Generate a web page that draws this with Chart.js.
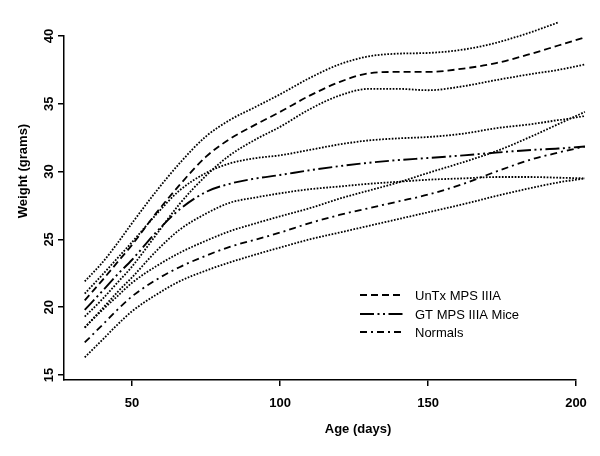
<!DOCTYPE html>
<html><head><meta charset="utf-8">
<script src="https://cdn.jsdelivr.net/npm/chart.js@4.4.0/dist/chart.umd.min.js"></script>
<style>html,body{margin:0;padding:0;background:#fff;}</style>
</head><body>
<canvas id="c" width="600" height="456"></canvas>
<script>
// ---- data ----
const days   = [34, 40, 45, 50, 58, 66, 75, 83, 92, 100, 110, 120, 130, 140, 150, 162, 173, 185, 194, 203];
const untxHi = [21.9,23.3,24.7,26.2,28.5,30.6,32.6,33.8,34.8,35.7,36.9,37.9,38.5,38.7,38.75,39.0,39.5,40.3,41.0,null];
const untx   = [20.5,22.0,23.3,24.6,26.9,29.0,31.1,32.4,33.5,34.4,35.6,36.6,37.25,37.35,37.35,37.6,38.0,38.7,39.3,39.9];
const untxLo = [19.3,20.6,21.8,23.0,25.3,27.6,29.7,31.2,32.4,33.3,34.6,35.6,36.1,36.1,36.0,36.3,36.75,37.2,37.5,37.9];
const gtHi   = [21.0,22.4,23.6,24.8,26.8,28.6,29.9,30.6,31.0,31.2,31.6,32.0,32.3,32.45,32.55,32.8,33.2,33.5,33.8,34.1];
const gt     = [19.8,21.2,22.4,23.5,25.5,27.2,28.5,29.1,29.5,29.75,30.1,30.4,30.65,30.85,31.0,31.2,31.4,31.6,31.7,31.85];
const gtLo   = [18.5,19.9,21.1,22.2,24.1,25.7,26.9,27.7,28.1,28.4,28.7,28.9,29.1,29.25,29.4,29.5,29.6,29.6,29.55,29.5];
const normHi = [18.5,19.8,20.8,21.8,23.0,24.0,24.9,25.6,26.2,26.7,27.3,28.0,28.6,29.2,29.9,30.7,31.5,32.6,33.5,34.4];
const norm   = [17.4,18.7,19.8,20.8,22.0,22.95,23.8,24.45,25.0,25.5,26.2,26.8,27.3,27.8,28.3,29.1,30.0,30.9,31.4,31.85];
const normLo = [16.3,17.6,18.7,19.7,20.9,21.9,22.7,23.3,23.9,24.4,25.0,25.5,26.0,26.5,27.0,27.6,28.2,28.8,29.2,29.5];
const xTicks = [50, 100, 150, 200];
const yTicks = [15, 20, 25, 30, 35, 40];
const seriesNames = ['UnTx MPS IIIA', 'GT MPS IIIA Mice', 'Normals'];
const xTitle = 'Age (days)';
const yTitle = 'Weight (grams)';

// ---- styles ----
const DOT = [1.7, 1.5];
const DASH_UNTX = [7, 4];
const DASH_GT = [14, 3.5, 2, 3.5, 2, 3.5];
const DASH_N = [7, 4, 2, 4];

function pts(arr){ return days.map((d,i)=>({x:d, y:arr[i]})); }
function ds(label, arr, dash, w){
  return {label, data: pts(arr), borderColor:'#000', borderWidth:w, borderDash:dash,
    pointRadius:0, fill:false, cubicInterpolationMode:'monotone', clip:false, spanGaps:false};
}

const datasets = [
  ds('UnTx hi', untxHi, DOT, 1.8),
  ds(seriesNames[0], untx, DASH_UNTX, 1.8),
  ds('UnTx lo', untxLo, DOT, 1.8),
  ds('GT hi', gtHi, DOT, 1.8),
  ds(seriesNames[1], gt, DASH_GT, 1.9),
  ds('GT lo', gtLo, DOT, 1.8),
  ds('N hi', normHi, DOT, 1.8),
  ds(seriesNames[2], norm, DASH_N, 1.8),
  ds('N lo', normLo, DOT, 1.8)
];

const drawText = {
  id:'drawText',
  afterDraw(chart){
    const ctx = chart.ctx, xs = chart.scales.x, ys = chart.scales.y;
    ctx.save();
    ctx.fillStyle = '#000';
    ctx.font = 'bold 13px "Liberation Sans", Arial, sans-serif';
    ctx.textAlign = 'center'; ctx.textBaseline = 'middle';
    xTicks.forEach(v => ctx.fillText(String(v), xs.getPixelForValue(v), 403));
    yTicks.forEach(v => {
      ctx.save();
      ctx.translate(49, ys.getPixelForValue(v));
      ctx.rotate(-Math.PI/2);
      ctx.fillText(String(v), 0, 0);
      ctx.restore();
    });
    ctx.fillText(xTitle, 358, 429);
    ctx.save();
    ctx.translate(23, 171);
    ctx.rotate(-Math.PI/2);
    ctx.fillText(yTitle, 0, 0);
    ctx.restore();
    // legend
    ctx.font = '13px "Liberation Sans", Arial, sans-serif';
    ctx.textAlign = 'left';
    const legRows = [[seriesNames[0], DASH_UNTX, 1.8, 295],[seriesNames[1], DASH_GT, 1.9, 314],[seriesNames[2], DASH_N, 1.8, 332]];
    legRows.forEach(([t, dash, w, y]) => {
      ctx.beginPath();
      ctx.setLineDash(dash);
      ctx.lineWidth = w; ctx.strokeStyle = '#000';
      ctx.moveTo(360, y); ctx.lineTo(404, y); ctx.stroke();
      ctx.setLineDash([]);
      ctx.fillText(t, 415, y + 1);
    });
    ctx.restore();
  }
};

new Chart(document.getElementById('c'), {
  type:'line',
  data:{datasets},
  options:{
    responsive:false, animation:false, devicePixelRatio:1,
    layout:{padding:{left:58, right:24, top:36, bottom:70}},
    plugins:{legend:{display:false}, tooltip:{enabled:false}},
    scales:{
      x:{type:'linear', min:27, max:200,
        afterBuildTicks: s => { s.ticks = xTicks.map(v=>({value:v})); },
        ticks:{display:false},
        grid:{drawOnChartArea:false, drawTicks:true, tickLength:6, color:'#000', lineWidth:1.5},
        border:{display:true, color:'#000', width:1.5}},
      y:{type:'linear', min:14.63, max:40,
        afterBuildTicks: s => { s.ticks = yTicks.map(v=>({value:v})); },
        ticks:{display:false},
        grid:{drawOnChartArea:false, drawTicks:true, tickLength:6, color:'#000', lineWidth:1.5},
        border:{display:true, color:'#000', width:1.5}}
    }
  },
  plugins:[drawText]
});
</script>
</body></html>
